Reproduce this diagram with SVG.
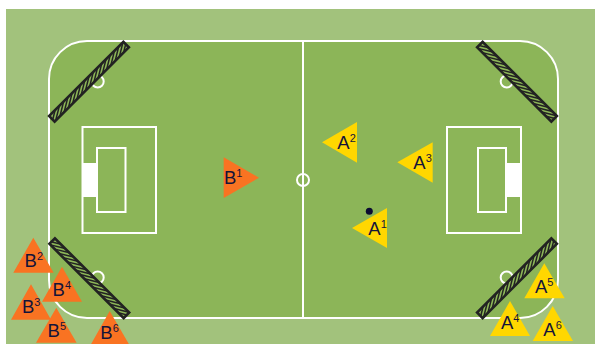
<svg xmlns="http://www.w3.org/2000/svg" width="595" height="344" viewBox="0 0 595 344">
<style>
.ln{fill:none;stroke:#fff;stroke-width:2}
.gl{fill:#fff;stroke:none}
.bar{fill:#8cb558}
.frm{fill:none;stroke:#222;stroke-width:2.6}
.st{fill:none;stroke:#222;stroke-width:1.5}
.a{fill:#ffd700}
.b{fill:#f97322}
text{font-family:"Liberation Sans",Arial,sans-serif;font-size:18.5px;fill:#14143a}
.s{font-size:11px}
</style>
<defs>
<clipPath id="bc"><rect x="-52.5" y="-3.9" width="105" height="7.8"/></clipPath>
<g id="barrier">
<rect class="bar" x="-52.5" y="-3.9" width="105" height="7.8"/>
<path class="st" clip-path="url(#bc)" d="M-57 3.9l13-7.8M-51 3.9l13-7.8M-45 3.9l13-7.8M-39 3.9l13-7.8M-33 3.9l13-7.8M-27 3.9l13-7.8M-21 3.9l13-7.8M-15 3.9l13-7.8M-9 3.9l13-7.8M-3 3.9l13-7.8M3 3.9l13-7.8M9 3.9l13-7.8M15 3.9l13-7.8M21 3.9l13-7.8M27 3.9l13-7.8M33 3.9l13-7.8M39 3.9l13-7.8M45 3.9l13-7.8"/>
<rect class="frm" x="-52.5" y="-3.9" width="105" height="7.8"/>
</g>
</defs>
<g id="field">
<rect x="6" y="9" width="589" height="335" fill="#a2c27c"/>
<rect x="49" y="41" width="509" height="277" rx="38" fill="#8cb558" stroke="#fff" stroke-width="2"/>
<line class="ln" x1="303" y1="41" x2="303" y2="318"/>
<circle class="ln" cx="303" cy="180" r="6"/>
<rect class="ln" x="82.5" y="127" width="73.5" height="106"/>
<rect class="ln" x="97" y="148" width="28.5" height="64"/>
<rect class="gl" x="82" y="163" width="15" height="34"/>
<rect class="ln" x="447" y="127" width="74" height="106"/>
<rect class="ln" x="478" y="148" width="28" height="64"/>
<rect class="gl" x="506" y="163" width="15" height="34"/>
<circle class="ln" cx="97.7" cy="81.5" r="6"/>
<circle class="ln" cx="506.7" cy="81.5" r="6"/>
<circle class="ln" cx="97.7" cy="277.5" r="6"/>
<circle class="ln" cx="506.7" cy="277.5" r="6"/>
</g>
<g id="connectors"></g>
<g id="barrier-tl"><use href="#barrier" transform="translate(89 81.7) rotate(-45)"/></g>
<g id="barrier-tr"><use href="#barrier" transform="translate(517 81.7) rotate(45)"/></g>
<g id="barrier-bl"><use href="#barrier" transform="translate(89.3 278.2) rotate(45)"/></g>
<g id="barrier-br"><use href="#barrier" transform="translate(517 278.2) rotate(-45)"/></g>
<g id="B1"><polygon class="b" points="259,177.7 223.7,157.3 223.7,198"/><text x="224" y="184.3">B<tspan class="s" dy="-7">1</tspan></text></g>
<g id="B2"><polygon class="b" points="33.3,237.7 13.3,272.7 53.7,272.7"/><text x="24.6" y="266.7">B<tspan class="s" dy="-7">2</tspan></text></g>
<g id="B3"><polygon class="b" points="31,284.3 11,319.7 51,319.7"/><text x="22" y="313.3">B<tspan class="s" dy="-7">3</tspan></text></g>
<g id="B4"><polygon class="b" points="62,266.7 42,301.7 82,301.7"/><text x="52.6" y="295.7">B<tspan class="s" dy="-7">4</tspan></text></g>
<g id="B5"><polygon class="b" points="56.3,307.7 36,342.7 76.6,342.7"/><text x="47.6" y="336.7">B<tspan class="s" dy="-7">5</tspan></text></g>
<g id="B6"><polygon class="b" points="109.7,311 90,346 130,346"/><text x="100.3" y="339.3">B<tspan class="s" dy="-7">6</tspan></text></g>
<g id="A1"><polygon class="a" points="352,228 387,208 387,248"/><text x="368.3" y="235">A<tspan class="s" dy="-7">1</tspan></text></g>
<g id="A2"><polygon class="a" points="322,142.3 357,122 357,162.7"/><text x="337.3" y="149">A<tspan class="s" dy="-7">2</tspan></text></g>
<g id="A3"><polygon class="a" points="397.3,162.3 432.7,142.3 432.7,182.7"/><text x="413.3" y="169.3">A<tspan class="s" dy="-7">3</tspan></text></g>
<g id="A4"><polygon class="a" points="510,301 490,336 530,336"/><text x="501" y="329.3">A<tspan class="s" dy="-7">4</tspan></text></g>
<g id="A5"><polygon class="a" points="544.3,263.3 524.3,298.3 564.7,298.3"/><text x="535" y="292.7">A<tspan class="s" dy="-7">5</tspan></text></g>
<g id="A6"><polygon class="a" points="552.7,306 532.7,341 573,341"/><text x="543.3" y="336">A<tspan class="s" dy="-7">6</tspan></text></g>
<g id="ball"><circle cx="369.3" cy="211.3" r="3.5" fill="#0a0a30"/></g>
</svg>
